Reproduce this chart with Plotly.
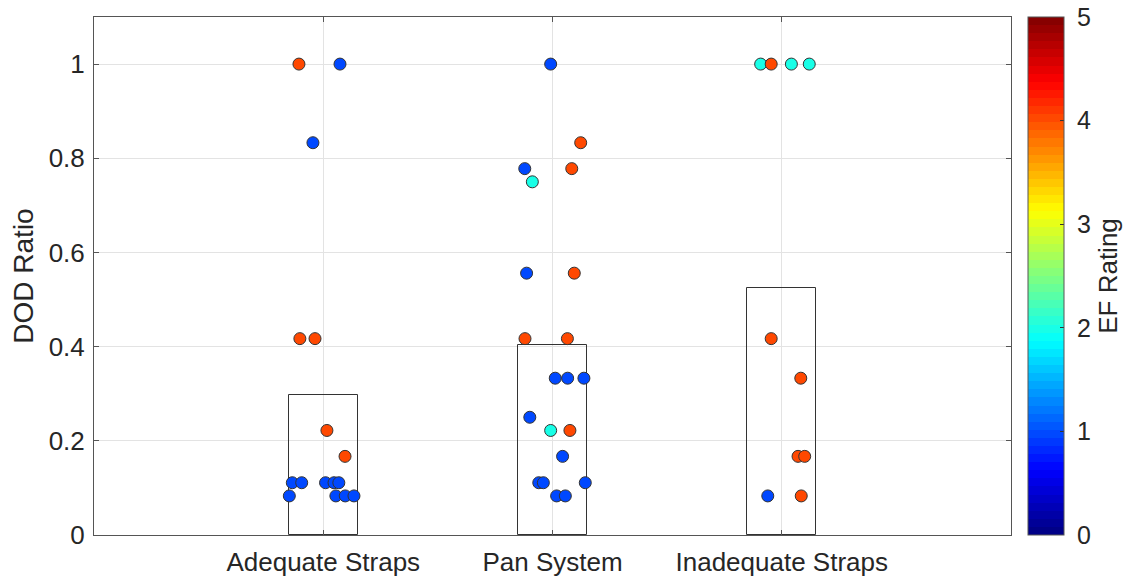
import plotly.graph_objects as go

categories = ["Adequate Straps", "Pan System", "Inadequate Straps"]
bar_means = [0.297, 0.403, 0.525]

adequate_dod = [1.0, 1.0, 0.833, 0.417, 0.417, 0.222, 0.167, 0.111, 0.111, 0.111, 0.111, 0.111, 0.083, 0.083, 0.083, 0.083]
adequate_ef = [4, 1, 1, 4, 4, 4, 4, 1, 1, 1, 1, 1, 1, 1, 1, 1]
adequate_jit = [-0.106, 0.073, -0.045, -0.102, -0.036, 0.016, 0.095, -0.135, -0.094, 0.010, 0.047, 0.068, -0.148, 0.055, 0.096, 0.134]

pan_dod = [1.0, 0.833, 0.778, 0.778, 0.75, 0.556, 0.556, 0.417, 0.417, 0.333, 0.333, 0.333, 0.25, 0.222, 0.222, 0.167, 0.111, 0.111, 0.111, 0.083, 0.083]
pan_ef = [1, 4, 1, 4, 2, 1, 4, 4, 4, 1, 1, 1, 1, 2, 4, 1, 1, 1, 1, 1, 1]
pan_jit = [-0.008, 0.123, -0.121, 0.084, -0.088, -0.113, 0.095, -0.120, 0.065, 0.012, 0.066, 0.137, -0.099, -0.008, 0.076, 0.044, -0.060, -0.040, 0.143, 0.018, 0.056]

inadequate_dod = [1.0, 1.0, 1.0, 1.0, 0.417, 0.333, 0.167, 0.167, 0.083, 0.083]
inadequate_ef = [2, 4, 2, 2, 4, 4, 4, 4, 1, 4]
inadequate_jit = [-0.092, -0.046, 0.042, 0.120, -0.046, 0.083, 0.071, 0.100, -0.061, 0.085]

ef_ticks = [0, 1, 2, 3, 4, 5]
dod_ticks = [0, 0.2, 0.4, 0.6, 0.8, 1.0]
dod_tick_labels = ["0", "0.2", "0.4", "0.6", "0.8", "1"]

groups = [
    (adequate_dod, adequate_ef, adequate_jit),
    (pan_dod, pan_ef, pan_jit),
    (inadequate_dod, inadequate_ef, inadequate_jit),
]

xs, ys, cs = [], [], []
for i, (d, e, j) in enumerate(groups):
    for dv, ev, jv in zip(d, e, j):
        xs.append(i + 1 + jv)
        ys.append(dv)
        cs.append(ev)


def jet_rgb(t):
    def clamp(v):
        return max(0.0, min(1.0, v))
    r = clamp(min(4 * t - 1.5, -4 * t + 4.5))
    g = clamp(min(4 * t - 0.5, -4 * t + 3.5))
    b = clamp(min(4 * t + 0.5, -4 * t + 2.5))
    return "rgb(%d,%d,%d)" % (round(r * 255), round(g * 255), round(b * 255))


n_bins = 64
matlab_jet = []
for k in range(n_bins):
    c = jet_rgb((k + 0.5) / n_bins)
    matlab_jet.append([k / n_bins, c])
    matlab_jet.append([(k + 1) / n_bins, c])

txt = "#262626"
font = "Liberation Sans, Arial, sans-serif"

fig = go.Figure()
fig.add_trace(go.Bar(
    x=[1, 2, 3], y=bar_means, width=0.3,
    marker=dict(color="rgba(0,0,0,0)", line=dict(color="#333333", width=1)),
    showlegend=False, hoverinfo="skip",
))
fig.add_trace(go.Scatter(
    x=xs, y=ys, mode="markers", showlegend=False,
    marker=dict(
        size=12, color=cs, colorscale=matlab_jet, cmin=0, cmax=5,
        line=dict(color="#333333", width=1),
        showscale=True,
        colorbar=dict(
            x=1.0185, xanchor="left", xpad=0, y=0, yanchor="bottom", ypad=0,
            len=1, lenmode="fraction", thickness=36, thicknessmode="pixels",
            outlinecolor="#555555", outlinewidth=1,
            tickvals=ef_ticks, ticktext=["\u00a0" + str(v) for v in ef_ticks],
            ticks="inside", ticklen=4, tickcolor="#333333",
            tickfont=dict(size=25, color=txt, family=font),
            title=dict(text="EF Rating", side="right", font=dict(size=26, color=txt, family=font)),
        ),
    ),
    hoverinfo="skip",
))

fig.update_layout(
    width=1127, height=577,
    margin=dict(l=94, r=116, t=17, b=42, autoexpand=False),
    paper_bgcolor="white", plot_bgcolor="white",
    font=dict(family=font, color=txt),
    bargap=0,
)
fig.update_xaxes(
    range=[0, 4], tickvals=[1, 2, 3], ticktext=categories,
    showgrid=True, gridcolor="#e3e3e3", gridwidth=1,
    showline=True, linecolor="#555555", linewidth=1, mirror="ticks",
    ticks="inside", ticklen=5, tickcolor="#555555",
    tickfont=dict(size=26, color=txt, family=font), zeroline=False,
    ticklabelstandoff=4, automargin=False,
)
fig.update_yaxes(
    range=[0, 1.1], tickvals=dod_ticks, ticktext=dod_tick_labels,
    showgrid=True, gridcolor="#e3e3e3", gridwidth=1,
    showline=True, linecolor="#555555", linewidth=1, mirror="ticks",
    ticks="inside", ticklen=5, tickcolor="#555555",
    tickfont=dict(size=26, color=txt, family=font), zeroline=False,
    ticklabelstandoff=3, automargin=False,
    title=dict(text="DOD Ratio", font=dict(size=28, color=txt, family=font), standoff=6),
)

fig.write_html("out.html")
